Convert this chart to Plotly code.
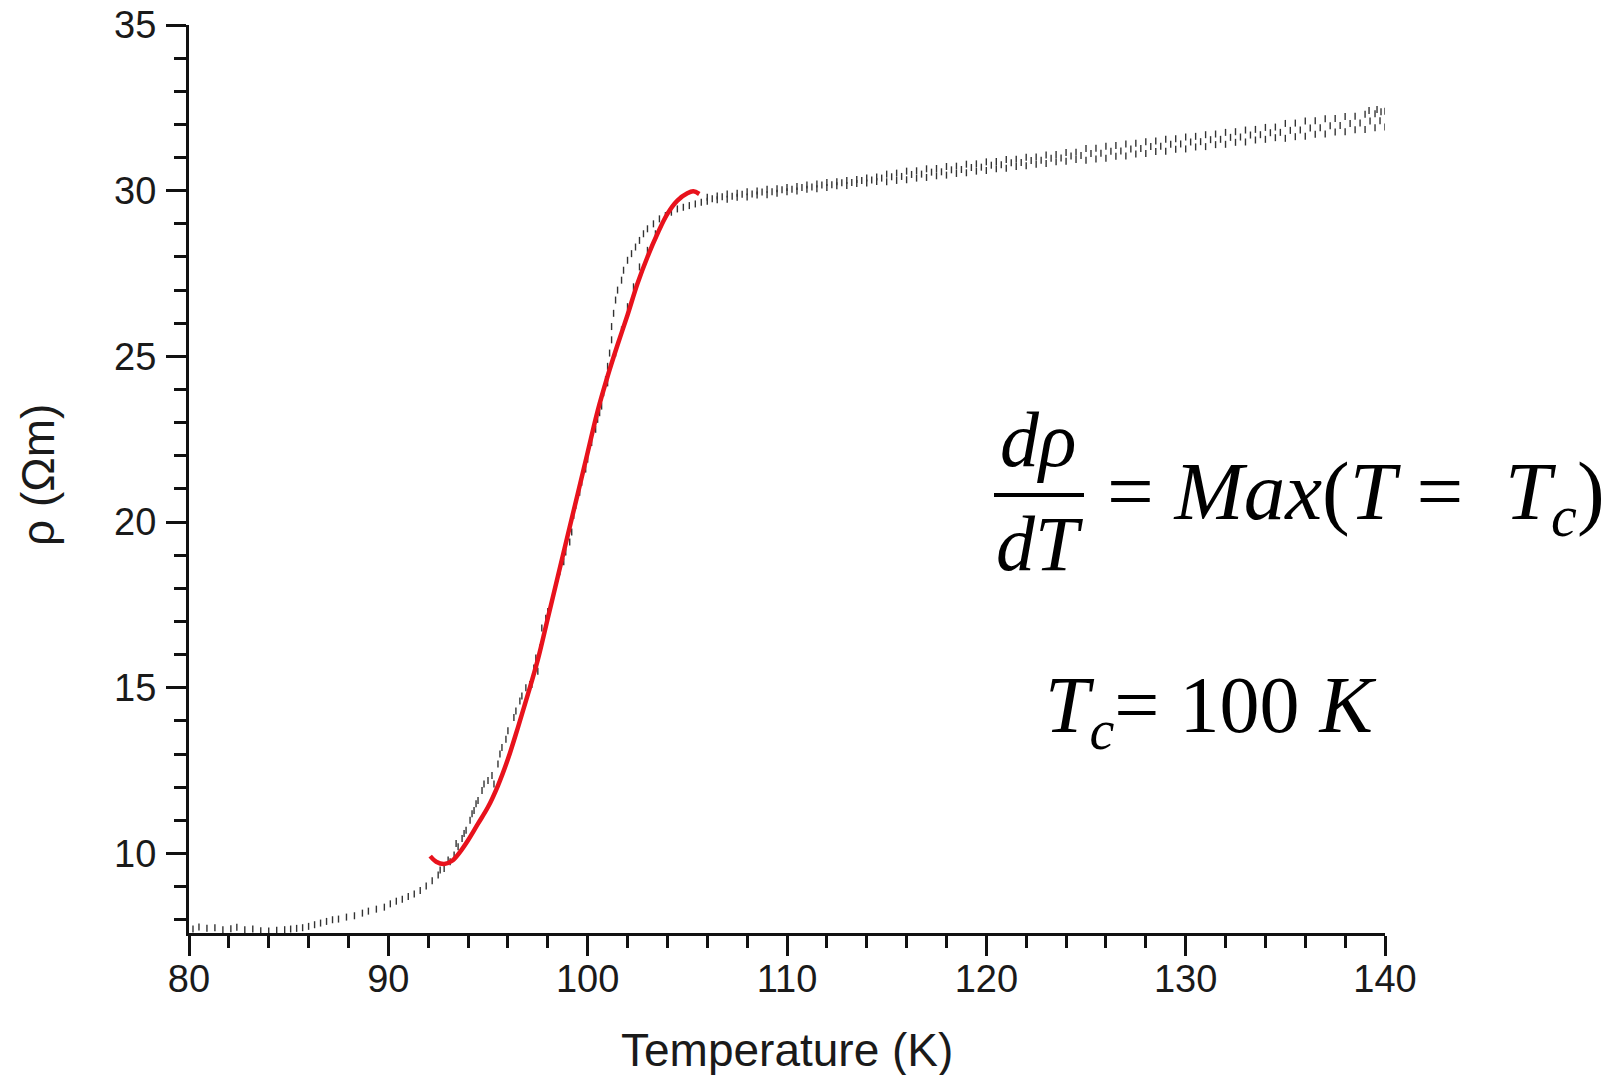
import plotly.graph_objects as go

T_tail = [80.2, 80.5, 80.9, 81.3, 81.7, 82.1, 82.4, 82.8, 83.2, 83.6, 84.0, 84.4, 84.8, 85.1, 85.4,
          85.7, 86.0, 86.3, 86.6, 86.9, 87.2, 87.5, 87.9, 88.3, 88.7, 89.0, 89.4, 89.8, 90.1, 90.4,
          90.7, 91.0, 91.3, 91.6, 91.9, 92.2, 92.5, 92.8, 93.1, 93.3, 93.5, 93.7, 93.9, 94.1, 94.3,
          92.6, 93.0, 93.4, 93.8, 94.2, 94.4]
rho_tail = [7.72, 7.78, 7.74, 7.76, 7.70, 7.73, 7.77, 7.70, 7.72, 7.67, 7.66, 7.68, 7.70, 7.72, 7.74,
            7.76, 7.80, 7.85, 7.90, 7.95, 8.00, 8.02, 8.08, 8.12, 8.20, 8.26, 8.32, 8.38, 8.48, 8.56,
            8.62, 8.70, 8.78, 8.88, 9.02, 9.18, 9.35, 9.55, 9.75, 9.95, 10.2, 10.45, 10.7, 11.0, 11.3,
            9.50, 9.80, 10.3, 10.6, 11.2, 11.5]

T_trans = [94.5, 94.7, 94.8, 95.0, 95.2, 95.3, 95.5, 95.6, 95.7, 95.9, 96.0, 96.3, 96.4, 96.6, 96.7,
           96.9, 97.1, 97.3, 97.4, 97.6, 97.7, 97.9, 98.0, 98.2, 98.3, 98.5, 98.6, 98.8, 98.9, 99.1,
           99.2, 99.3, 99.4, 99.6, 99.7, 99.9, 100.0, 100.2, 100.4, 100.5, 100.7, 100.8, 100.9, 101.0,
           101.1, 101.2, 101.2, 101.3, 101.4, 101.5, 101.7, 101.8, 102.0, 102.2, 102.4, 102.6, 102.8,
           103.0, 103.3, 103.6, 103.9, 104.2, 104.5, 104.8, 105.1, 105.4, 105.7,
           100.6, 101.0, 101.4, 101.7, 102.0, 102.3, 102.6, 103.0, 103.4, 97.2, 97.5]
rho_trans = [11.6, 11.9, 12.1, 12.2, 12.35, 12.1, 12.7, 13.0, 13.2, 13.45, 13.7, 14.1, 14.3, 14.6, 14.75,
             15.0, 15.1, 15.6, 15.9, 16.2, 16.8, 17.1, 17.3, 17.6, 17.9, 18.3, 18.5, 18.8, 19.1, 19.4,
             19.7, 20.2, 20.5, 20.9, 21.2, 21.6, 21.9, 22.4, 22.8, 23.1, 23.5, 23.9, 24.3, 24.7,
             25.1, 25.5, 25.9, 26.3, 26.7, 27.0, 27.3, 27.6, 27.9, 28.1, 28.3, 28.5, 28.7,
             28.85, 29.0, 29.15, 29.25, 29.35, 29.45, 29.5, 29.55, 29.6, 29.65,
             23.3, 24.2, 25.1, 25.8, 26.5, 27.1, 27.7, 28.2, 28.7, 15.1, 15.5]

T_norm = [106.0, 106.5, 107.0, 107.5, 108.0, 108.5, 109.0, 109.5, 110.0, 110.5, 111.0, 111.5, 112.0,
          112.5, 113.0, 113.5, 114.0, 114.5, 115.0, 115.5, 116.0, 116.5, 117.0, 117.5, 118.0, 118.5,
          119.0, 119.5, 120.0, 120.5, 121.0, 121.5, 122.0, 122.5, 123.0, 123.5, 124.0, 124.5, 125.0,
          125.5, 126.0, 126.5, 127.0, 127.5, 128.0, 128.5, 129.0, 129.5, 130.0, 130.5, 131.0, 131.5,
          132.0, 132.5, 133.0, 133.5, 134.0, 134.5, 135.0, 135.5, 136.0, 136.5, 137.0, 137.5, 138.0,
          138.5, 139.0, 139.5, 140.0]
rho_norm_lo = [29.68, 29.73, 29.74, 29.80, 29.81, 29.87, 29.88, 29.92, 29.97, 29.99, 30.04, 30.06, 30.10,
               30.15, 30.16, 30.22, 30.23, 30.28, 30.27, 30.31, 30.33, 30.38, 30.40, 30.45, 30.47, 30.52,
               30.54, 30.59, 30.61, 30.66, 30.68, 30.73, 30.75, 30.80, 30.82, 30.87, 30.89, 30.94, 30.92,
               30.96, 30.98, 31.04, 31.05, 31.11, 31.12, 31.18, 31.19, 31.25, 31.26, 31.32, 31.33, 31.39,
               31.40, 31.46, 31.47, 31.53, 31.55, 31.60, 31.58, 31.63, 31.64, 31.70, 31.71, 31.77, 31.78,
               31.84, 31.85, 31.90, 31.92]
rho_norm_hi = [29.80, 29.84, 29.90, 29.92, 29.97, 29.99, 30.04, 30.06, 30.10, 30.13, 30.17, 30.20, 30.25,
               30.27, 30.31, 30.34, 30.38, 30.41, 30.50, 30.53, 30.59, 30.60, 30.66, 30.67, 30.73, 30.74,
               30.80, 30.81, 30.87, 30.88, 30.94, 30.95, 31.01, 31.02, 31.08, 31.09, 31.15, 31.16, 31.27,
               31.28, 31.34, 31.36, 31.41, 31.43, 31.48, 31.50, 31.55, 31.57, 31.62, 31.64, 31.69, 31.71,
               31.76, 31.78, 31.83, 31.85, 31.91, 31.92, 32.03, 32.04, 32.10, 32.11, 32.17, 32.18, 32.24,
               32.25, 32.31, 32.32, 32.40]
T_norm_mid = [115.25, 115.75, 116.25, 116.75, 117.25, 117.75, 118.25, 118.75, 119.25, 119.75, 120.25,
              120.75, 121.25, 121.75, 122.25, 122.75, 123.25, 123.75, 124.25, 124.75, 125.25, 125.75,
              126.25, 126.75, 127.25, 127.75, 128.25, 128.75, 129.25, 129.75, 130.25, 130.75, 131.25,
              131.75, 132.25, 132.75, 133.25, 133.75, 134.25, 134.75, 135.25, 135.75, 136.25, 136.75,
              137.25, 137.75, 138.25, 138.75, 139.25, 139.75, 139.2, 139.6, 139.8]
rho_norm_mid = [30.42, 30.43, 30.49, 30.50, 30.56, 30.57, 30.63, 30.64, 30.70, 30.71, 30.77,
                30.78, 30.84, 30.85, 30.91, 30.92, 30.98, 30.99, 31.05, 31.06, 31.12, 31.13,
                31.19, 31.20, 31.26, 31.27, 31.33, 31.34, 31.40, 31.41, 31.47, 31.48, 31.54,
                31.55, 31.61, 31.62, 31.68, 31.69, 31.75, 31.76, 31.82, 31.83, 31.89, 31.90,
                31.96, 31.97, 32.03, 32.04, 32.10, 32.11, 32.42, 32.45, 32.38]
T_norm_early = [106.25, 106.75, 107.25, 107.75, 108.25, 108.75, 109.25, 109.75, 110.25, 110.75,
                111.25, 111.75, 112.25, 112.75, 113.25, 113.75, 114.25, 114.75]
rho_norm_early = [29.76, 29.82, 29.83, 29.89, 29.90, 29.96, 29.97, 30.03, 30.04, 30.10,
                  30.11, 30.17, 30.18, 30.24, 30.25, 30.31, 30.32, 30.38]

# red fitted curve
T_fit = [92.1, 92.4, 92.8, 93.2, 93.6, 94.0, 94.5, 95.0, 95.5, 96.0, 96.5, 97.0, 97.5, 98.0, 98.5,
         99.0, 99.5, 100.0, 100.5, 101.0, 101.5, 102.0, 102.5, 103.0, 103.5, 104.0, 104.5, 105.0,
         105.3, 105.6]
rho_fit = [9.92, 9.75, 9.68, 9.78, 10.05, 10.4, 10.9, 11.4, 12.05, 12.85, 13.8, 14.8, 15.85, 17.1, 18.35,
           19.6, 20.85, 22.1, 23.35, 24.4, 25.35, 26.25, 27.2, 28.0, 28.7, 29.3, 29.7, 29.92,
           29.98, 29.9]

x_ticks = [80, 90, 100, 110, 120, 130, 140]
y_ticks = [10, 15, 20, 25, 30, 35]

# ---- figure ----
W, H = 1618, 1075
L, R, TOP, B = 189, 233, 25, 142
pw, ph = W - L - R, H - TOP - B

def px(xp):
    return (xp - L) / pw

def py(yp):
    return (H - B - yp) / ph

fig = go.Figure()
dot = dict(symbol="line-ns-open", size=5, color="#333333", line=dict(width=1.4, color="#333333"))
for xs, ys in [(T_tail, rho_tail), (T_trans, rho_trans), (T_norm, rho_norm_lo),
               (T_norm, rho_norm_hi), (T_norm_mid, rho_norm_mid), (T_norm_early, rho_norm_early)]:
    fig.add_trace(go.Scatter(x=xs, y=ys, mode="markers", marker=dot, showlegend=False))
fig.add_trace(go.Scatter(x=T_fit, y=rho_fit, mode="lines",
                         line=dict(color="#e8121c", width=4.5, shape="spline"), showlegend=False))

axis_font = dict(family="Liberation Sans, Arial, sans-serif", size=38, color="#1a1a1a")
common = dict(showline=True, linecolor="#111", linewidth=3, ticks="outside", ticklen=20,
              tickwidth=3, tickcolor="#111", showgrid=False, zeroline=False, tickfont=axis_font)
fig.update_xaxes(range=[80, 140], tickvals=x_ticks, ticktext=[str(v) for v in x_ticks],
                 ticklabelstandoff=-10,
                 minor=dict(ticks="outside", ticklen=12, tickwidth=3, tickcolor="#111",
                            dtick=2, tick0=80, showgrid=False), **common)
fig.update_yaxes(range=[7.6, 35], tickvals=y_ticks, ticktext=[str(v) for v in y_ticks],
                 ticklabelstandoff=2,
                 minor=dict(ticks="outside", ticklen=12, tickwidth=3, tickcolor="#111",
                            dtick=1, tick0=0, showgrid=False), **common)

title_font = dict(family="Liberation Sans, Arial, sans-serif", size=46, color="#1a1a1a")
eq_font = dict(family="Liberation Serif, serif", size=80, color="#000")
frac_font = dict(family="Liberation Serif, serif", size=78, color="#000")
ann = [
    dict(text="Temperature (K)", x=px(787), y=py(1050), font=title_font),
    dict(text="ρ (Ωm)", x=px(38), y=py(475), font=title_font, textangle=-90),
    dict(text="<i>dρ</i>", x=px(1038), y=py(439), font=frac_font),
    dict(text="<i>dT</i>", x=px(1039), y=py(543), font=frac_font),
    dict(text="= <i>Max</i>(<i>T</i> =  <i>T</i><sub><i>c</i></sub>)", x=px(1105), y=py(497),
         font=dict(family="Liberation Serif, serif", size=83, color="#000"), xanchor="left"),
    dict(text="<i>T</i><sub><i>c</i></sub>= 100 <i>K</i>", x=px(1043), y=py(711),
         font=eq_font, xanchor="left"),
]
for a in ann:
    a.setdefault("xanchor", "center")
    a.setdefault("yanchor", "middle")
    fig.add_annotation(xref="paper", yref="paper", showarrow=False, **a)

fig.add_shape(type="line", xref="paper", yref="paper", x0=px(994), x1=px(1084),
              y0=py(495), y1=py(495), line=dict(color="#000", width=4))

fig.update_layout(width=W, height=H, margin=dict(l=L, r=R, t=TOP, b=B, autoexpand=False),
                  paper_bgcolor="white", plot_bgcolor="white")
fig.write_html("out.html", config={"displayModeBar": False},
               post_script="document.body.style.margin='0';")
